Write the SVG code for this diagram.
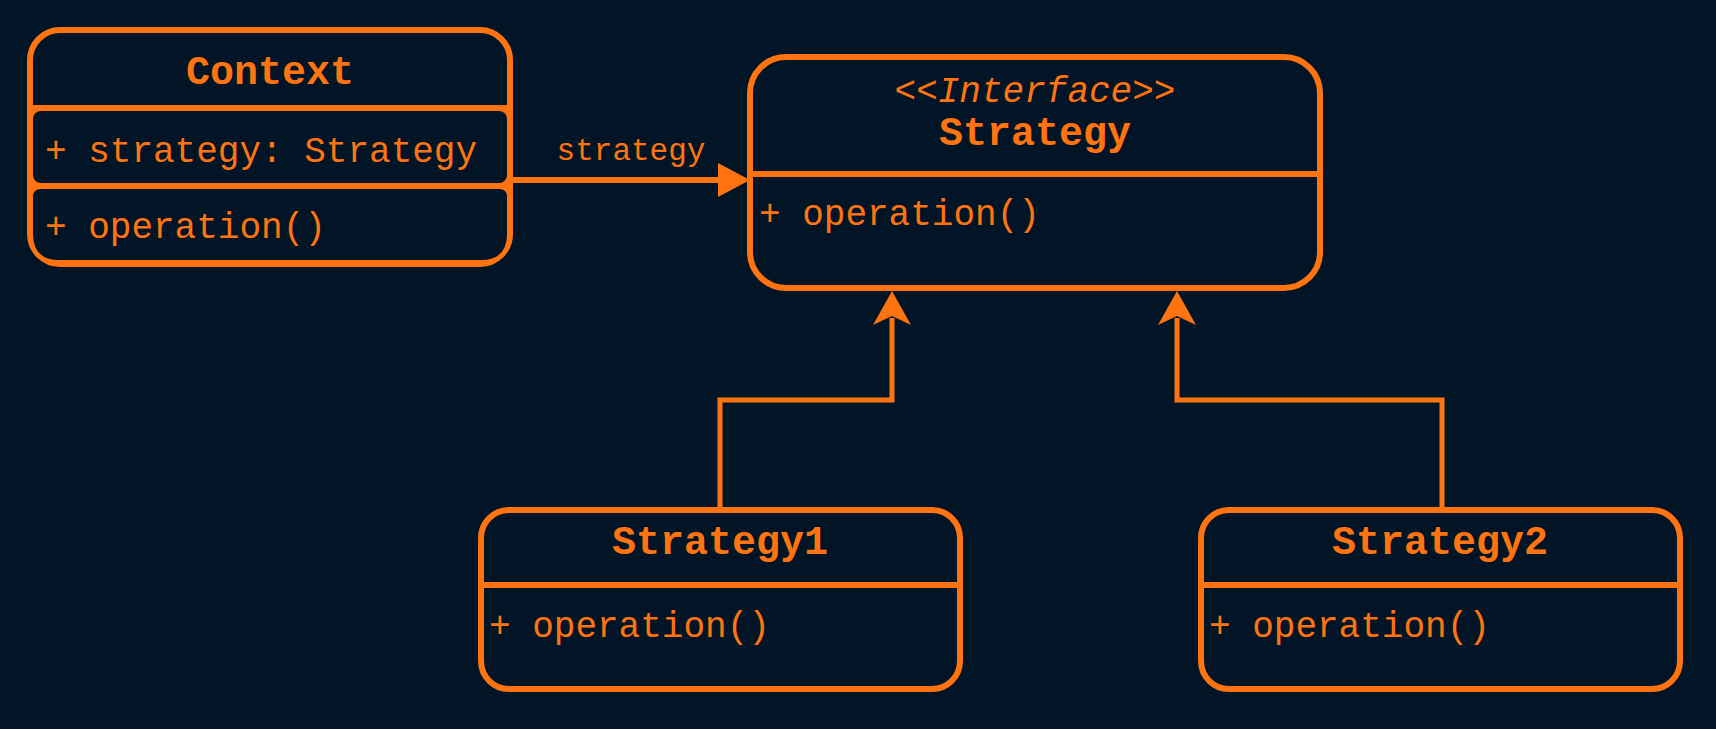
<svg xmlns="http://www.w3.org/2000/svg" width="1716" height="729" viewBox="0 0 1716 729">
  <style>
    .box { fill: #021526; stroke: #ff7410; stroke-width: 6; }
    .sep { stroke: #ff7410; stroke-width: 6; fill: none; }
    .title { font-family: "Liberation Mono", "DejaVu Sans Mono", monospace; font-weight: bold; font-size: 40px; fill: #ff7410; text-anchor: middle; }
    .stereo { font-family: "Liberation Mono", "DejaVu Sans Mono", monospace; font-style: italic; font-size: 36px; fill: #ff7410; text-anchor: middle; }
    .member { font-family: "Liberation Mono", "DejaVu Sans Mono", monospace; font-size: 36px; fill: #ff7410; }
    .label { font-family: "Liberation Mono", "DejaVu Sans Mono", monospace; font-size: 31px; fill: #ff7410; text-anchor: middle; }
    .edge { stroke: #ff7410; stroke-width: 5; fill: none; }
    .head { fill: #ff7410; }
  </style>
  <rect x="0" y="0" width="1716" height="729" fill="#021526"/>

  <g id="connectors">
    <g id="edge-context-strategy">
      <line class="edge" x1="513" y1="180" x2="722" y2="180" style="stroke-width:6"/>
      <polygon class="head" points="718,163 750,180 718,197"/>
      <text class="label" x="631" y="160">strategy</text>
    </g>
    <g id="edge-strategy1-strategy">
      <polyline class="edge" points="720,507 720,400 892,400 892,318"/>
      <polygon class="head" points="892,291 911,325 892,316 873,325"/>
    </g>
    <g id="edge-strategy2-strategy">
      <polyline class="edge" points="1442,507 1442,400 1177,400 1177,318"/>
      <polygon class="head" points="1177,291 1196,325 1177,316 1158,325"/>
    </g>
  </g>

  <g id="node-context">
    <rect class="box" x="30" y="30" width="480" height="234" rx="30"/>
    <path d="M33,105 H507 V236 Q507,264 479,264 H61 Q33,264 33,236 Z" fill="#ff7410"/>
    <rect x="33" y="111" width="474" height="72" rx="8" fill="#021526"/>
    <path d="M41,189 H499 Q507,189 507,197 V234 Q507,260 481,260 H59 Q33,260 33,234 V197 Q33,189 41,189 Z" fill="#021526"/>
    <text class="title" x="270" y="84">Context</text>
    <text class="member" x="45" y="162">+ strategy: Strategy</text>
    <text class="member" x="45" y="238">+ operation()</text>
  </g>

  <g id="node-strategy">
    <rect class="box" x="750" y="57" width="570" height="231" rx="36"/>
    <line class="sep" x1="750" y1="174" x2="1320" y2="174"/>
    <text class="stereo" x="1035" y="102">&lt;&lt;Interface&gt;&gt;</text>
    <text class="title" x="1035" y="145">Strategy</text>
    <text class="member" x="759" y="225">+ operation()</text>
  </g>

  <g id="node-strategy1">
    <rect class="box" x="481" y="510" width="479" height="179" rx="28"/>
    <line class="sep" x1="481" y1="585" x2="960" y2="585"/>
    <text class="title" x="720" y="554">Strategy1</text>
    <text class="member" x="489" y="637">+ operation()</text>
  </g>

  <g id="node-strategy2">
    <rect class="box" x="1201" y="510" width="479" height="179" rx="28"/>
    <line class="sep" x1="1201" y1="585" x2="1680" y2="585"/>
    <text class="title" x="1440" y="554">Strategy2</text>
    <text class="member" x="1209" y="637">+ operation()</text>
  </g>
</svg>
